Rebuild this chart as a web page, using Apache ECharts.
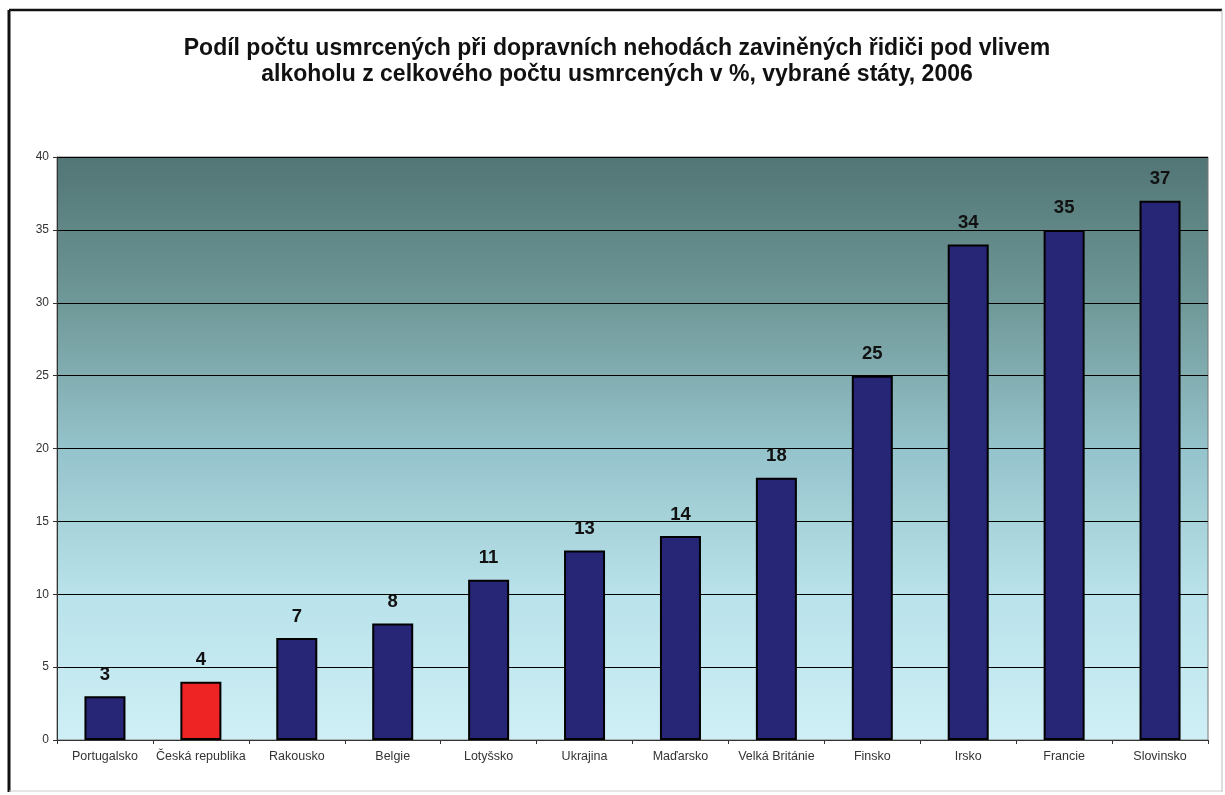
<!DOCTYPE html>
<html>
<head>
<meta charset="utf-8">
<script src="https://cdn.jsdelivr.net/npm/echarts@6/dist/echarts.min.js"></script>
<style>
  html, body { margin: 0; padding: 0; background: #fff; }
  #chart { width: 1225px; height: 795px; }
</style>
</head>
<body>
<div id="chart"></div>
<script>
// kategorie a hodnoty (%)
var states = ["Portugalsko", "Česká republika", "Rakousko", "Belgie", "Lotyšsko", "Ukrajina",
  "Maďarsko", "Velká Británie", "Finsko", "Irsko", "Francie", "Slovinsko"];
var shares = [3, 4, 7, 8, 11, 13, 14, 18, 25, 34, 35, 37];
var highlight = "Česká republika";

var myChart = echarts.init(document.getElementById("chart"));

var option = {
  animation: false,
  title: {
    text: "Podíl počtu usmrcených při dopravních nehodách zaviněných řidiči pod vlivem\nalkoholu z celkového počtu usmrcených v %, vybrané státy, 2006",
    left: 612,
    top: 31,
    textAlign: "center",
    textStyle: {
      fontFamily: "Liberation Sans",
      fontSize: 23,
      fontWeight: "bold",
      color: "#111",
      lineHeight: 26
    }
  },
  graphic: [
    // rámeček
    { type: "line", shape: { x1: 9, y1: 10, x2: 1222, y2: 10 }, style: { stroke: "#111", lineWidth: 2.5 } },
    { type: "line", shape: { x1: 9, y1: 10, x2: 9, y2: 792 }, style: { stroke: "#111", lineWidth: 3 } },
    { type: "line", shape: { x1: 1222, y1: 10, x2: 1222, y2: 792 }, style: { stroke: "#bbb", lineWidth: 1 } },
    { type: "line", shape: { x1: 9, y1: 791, x2: 1222, y2: 791 }, style: { stroke: "#ccc", lineWidth: 1 } }
  ],
  grid: {
    left: 57,
    top: 157,
    right: 17,
    bottom: 55,
    show: true,
    borderWidth: 1,
    borderColor: "#777",
    backgroundColor: {
      type: "linear", x: 0, y: 0, x2: 0, y2: 1,
      colorStops: [
        { offset: 0, color: "#527575" },
        { offset: 0.25, color: "#6f9898" },
        { offset: 0.5, color: "#95c3cb" },
        { offset: 0.75, color: "#b9e2ea" },
        { offset: 1, color: "#cfeff6" }
      ]
    }
  },
  xAxis: {
    type: "category",
    data: states,
    axisLine: { lineStyle: { color: "#333", width: 1 } },
    axisTick: { show: true, length: 4, lineStyle: { color: "#333" } },
    axisLabel: {
      interval: 0,
      margin: 10,
      color: "#333",
      fontFamily: "Liberation Sans",
      fontSize: 12.5
    }
  },
  yAxis: {
    type: "value",
    min: 0,
    max: 40,
    interval: 5,
    axisLine: { show: true, lineStyle: { color: "#333", width: 1 } },
    axisTick: { show: true, length: 4, lineStyle: { color: "#333" } },
    axisLabel: {
      margin: 8,
      color: "#333",
      fontFamily: "Liberation Sans",
      fontSize: 12
    },
    splitLine: { lineStyle: { color: "#000", width: 1.2 } }
  },
  series: [
    {
      type: "bar",
      barWidth: 41,
      data: shares.map(function (v, i) {
        return {
          value: v,
          itemStyle: { color: states[i] === highlight ? "#ee2424" : "#262576" }
        };
      }),
      itemStyle: { borderColor: "#000", borderWidth: 2 },
      label: {
        show: true,
        position: "top",
        distance: 12,
        color: "#111",
        fontFamily: "Liberation Sans",
        fontWeight: "bold",
        fontSize: 18.5
      }
    }
  ]
};

myChart.setOption(option);
</script>
</body>
</html>
